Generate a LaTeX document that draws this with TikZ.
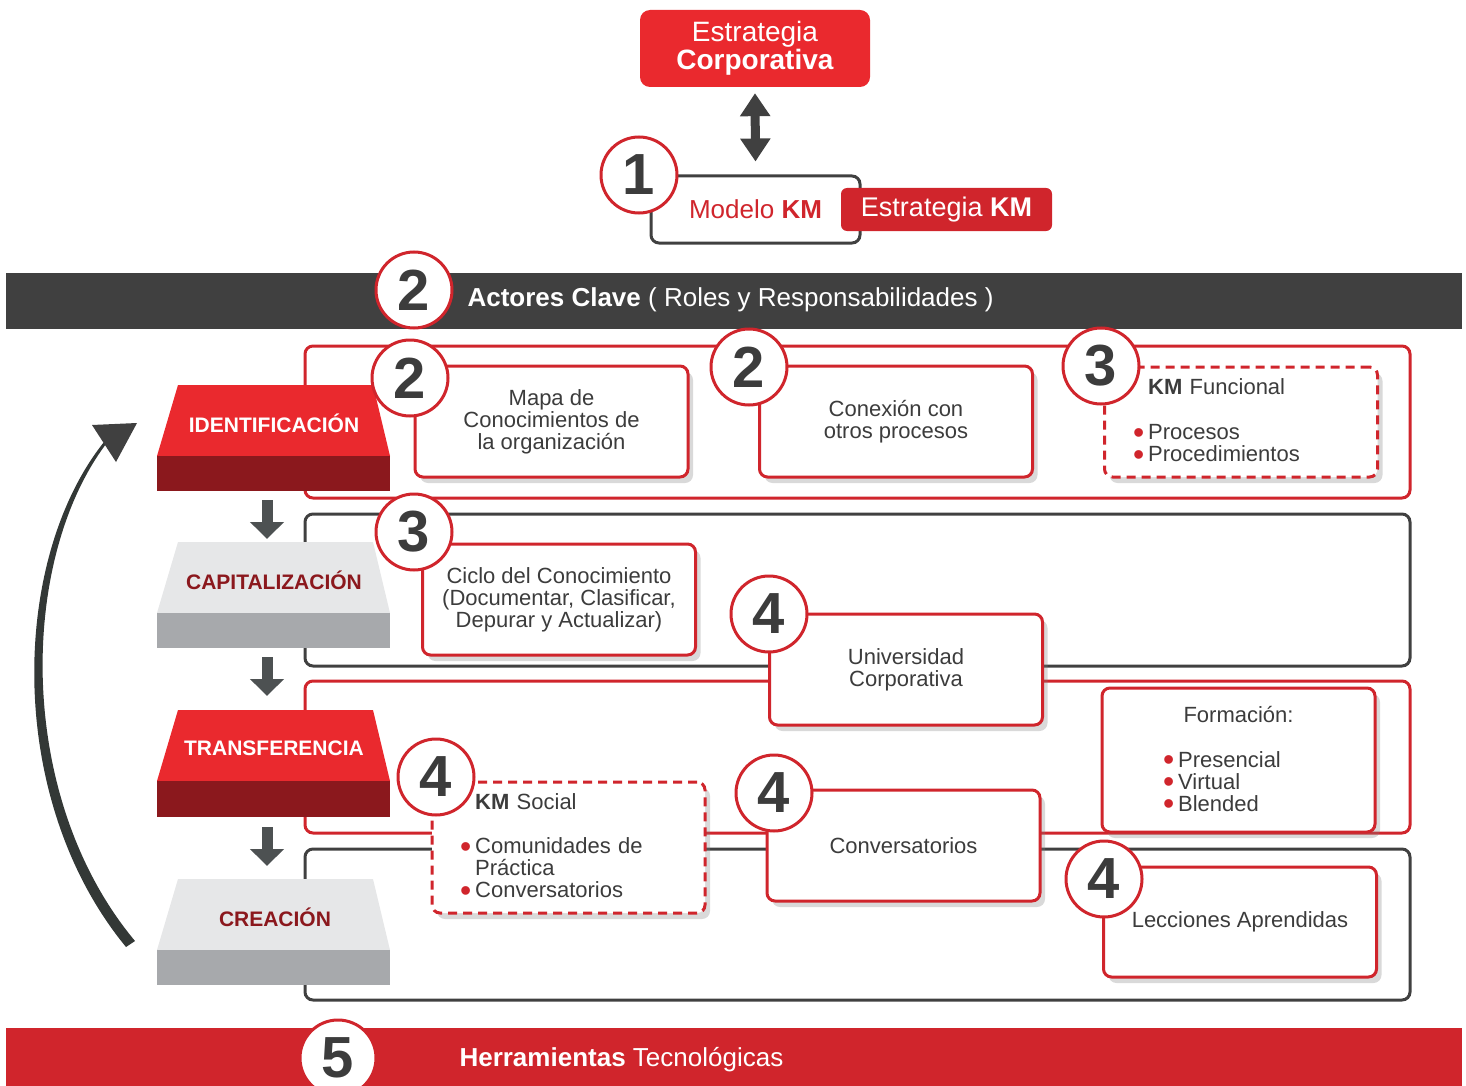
\documentclass[tikz,border=0pt]{standalone}
\usepackage{fontspec}
\usepackage{graphicx}
\setmainfont{Liberation Sans}
\usetikzlibrary{arrows.meta}
\usetikzlibrary{shadows}

\definecolor{kmred}{RGB}{208,37,44}
\definecolor{brightred}{RGB}{234,41,46}
\definecolor{maroon}{RGB}{139,24,29}
\definecolor{lightgr}{RGB}{230,231,232}
\definecolor{midgr}{RGB}{167,169,172}
\definecolor{bandgr}{RGB}{64,64,64}
\definecolor{txtgr}{RGB}{60,60,60}
\definecolor{arrgr}{RGB}{77,81,82}
\definecolor{loopgr}{RGB}{51,56,54}

\newcommand{\bodyfont}{\fontsize{22}{22}\selectfont}
\newcommand{\blt}{\textcolor{kmred}{\raisebox{-3.2pt}{\scalebox{1.45}{\textbullet}}}\hspace{4pt}}

\begin{document}
\begin{tikzpicture}[x=1pt,y=-1pt]
	\tikzset{numcirc/.style = {shape=circle,draw=kmred,line width=3pt,fill=white,minimum size=76pt,inner sep=0pt,text=txtgr,font=\fontsize{58}{58}\selectfont\bfseries}}
	\tikzset{kmbox/.style = {shape=rectangle,rounded corners=8pt,draw=kmred,line width=3pt,fill=white,minimum width=273pt,minimum height=111pt,align=center,text=txtgr,font=\bodyfont,drop shadow={shadow xshift=5pt,shadow yshift=-6pt,opacity=0.3}}}
	\tikzset{dashbox/.style = {kmbox,dash pattern=on 9pt off 6pt}}
	\tikzset{redframe/.style = {draw=kmred,line width=3pt,rounded corners=8pt}}
	\tikzset{grayframe/.style = {draw=bandgr,line width=3pt,rounded corners=8pt}}
	\tikzset{stagetxt/.style = {font=\fontsize{21}{21}\selectfont\bfseries}}
	\tikzset{downarr/.style = {-{Triangle[width=33pt,length=17pt]},line width=11pt,draw=arrgr}}
	\tikzset{dblarr/.style = {{Triangle[width=29pt,length=23pt]}-{Triangle[width=29pt,length=23pt]},line width=9pt,draw=bandgr}}
	\useasboundingbox (0,0) rectangle (1466,1086);
	% bands
	\node[fill=bandgr,minimum width=1456pt,minimum height=56pt,inner sep=0pt,anchor=north west] (actores) at (6,273) {};
	\node[anchor=west,text=white,font=\fontsize{26}{26}\selectfont] (actorestxt) at (464,300) {\textbf{Actores Clave} ( Roles y Responsabilidades )};
	\node[fill=kmred,minimum width=1456pt,minimum height=60pt,inner sep=0pt,anchor=north west] (herram) at (6,1028) {};
	\node[anchor=west,text=white,font=\fontsize{26}{26}\selectfont] (herramtxt) at (456,1060) {\textbf{Herramientas} Tecnológicas};
	% row frames
	\draw[redframe] (305,346) rectangle (1410,498);
	\draw[grayframe] (305,514) rectangle (1410,666);
	\draw[redframe] (305,681) rectangle (1410,833);
	\draw[grayframe] (305,849) rectangle (1410,1000);
	% stages
	\fill[brightred] (178,385) -- (373,385) -- (390,456) -- (157,456) -- cycle;
	\fill[maroon] (157,456) rectangle (390,491);
	\node[stagetxt,text=white] (ident) at (274,423) {IDENTIFICACIÓN};
	\fill[lightgr] (178,542) -- (373,542) -- (390,613) -- (157,613) -- cycle;
	\fill[midgr] (157,613) rectangle (390,648);
	\node[stagetxt,text=maroon] (capit) at (274,580) {CAPITALIZACIÓN};
	\fill[brightred] (178,710) -- (373,710) -- (390,781) -- (157,781) -- cycle;
	\fill[maroon] (157,781) rectangle (390,817);
	\node[stagetxt,text=white] (transf) at (274,748) {TRANSFERENCIA};
	\fill[lightgr] (178,879) -- (373,879) -- (390,950) -- (157,950) -- cycle;
	\fill[midgr] (157,950) rectangle (390,985);
	\node[stagetxt,text=maroon] (creac) at (275,917) {CREACIÓN};
	\coordinate (identbot) at (267,500);
	\coordinate (capittop) at (267,539);
	\coordinate (capitbot) at (267,657);
	\coordinate (transftop) at (267,696);
	\coordinate (transfbot) at (267,827);
	\coordinate (creactop) at (267,866);
	\draw[downarr] (identbot) -- (capittop);
	\draw[downarr] (capitbot) -- (transftop);
	\draw[downarr] (transfbot) -- (creactop);
	% loop back
	\fill[loopgr] (126,947) .. controls (5,800) and (10,560) .. (104,442) -- (106,444) .. controls (19,560) and (15,797) .. (135,941) -- cycle;
	\fill[bandgr] (92,425) -- (137,423) -- (116,462) -- cycle;
	% strategy
	\node[fill=brightred,rounded corners=10pt,minimum width=230pt,minimum height=77pt,align=center,text=white,font=\fontsize{28}{28}\selectfont] (corp) at (755,48.5) {Estrategia\\\textbf{Corporativa}};
	\node[draw=bandgr,line width=3pt,fill=white,rounded corners=8pt,minimum width=209pt,minimum height=67pt,text=kmred,font=\fontsize{26}{26}\selectfont] (modelo) at (755.5,209.5) {Modelo \textbf{KM}\hspace{14pt}};
	\node[fill=kmred,rounded corners=6pt,minimum width=211pt,minimum height=43pt,text=white,font=\fontsize{27}{27}\selectfont] (estkm) at (946.5,209.5) {Estrategia \textbf{KM}};
	\draw[dblarr] ([yshift=-6pt]corp.south) -- ([yshift=13pt]modelo.north);
	% boxes
	\node[kmbox] (mapa) at (551.5,421.5) {Mapa de\\Conocimientos de\\la organización};
	\node[kmbox] (conex) at (896,421.5) {Conexión con\\otros procesos};
	\node[dashbox,align=left,text width=216pt,inner xsep=28pt,minimum height=110pt] (funcional) at (1241,422) {\phantom{\blt}\textbf{KM} Funcional\\[23pt]\blt Procesos\\\blt Procedimientos};
	\node[kmbox] (ciclo) at (559,599.5) {Ciclo del Conocimiento\\(Documentar, Clasificar,\\Depurar y Actualizar)};
	\node[kmbox] (univ) at (906,669.5) {Universidad\\Corporativa};
	\node[kmbox,align=left,text width=151pt,inner xsep=61pt,minimum height=144pt] (formac) at (1238.5,760) {\makebox[151pt][c]{Formación:}\\[23pt]\blt Presencial\\\blt Virtual\\\blt Blended};
	\node[dashbox,align=left,text width=217pt,inner xsep=28pt,minimum height=131pt] (social) at (568.5,847.5) {\phantom{\blt}\textbf{KM} Social\\[22pt]\blt Comunidades de\\\phantom{\blt}Práctica\\\blt Conversatorios};
	\node[kmbox] (convers) at (903.5,845.5) {Conversatorios};
	\node[kmbox,minimum height=110pt] (lecc) at (1240,922) {Lecciones Aprendidas};
	% numbers
	\node[numcirc] (n1) at (639,175) {1};
	\node[numcirc] (n2a) at (414,290) {2};
	\node[numcirc] (n2b) at (410,378) {2};
	\node[numcirc] (n2c) at (749,367) {2};
	\node[numcirc] (n3a) at (1101,366) {3};
	\node[numcirc] (n3b) at (414,532) {3};
	\node[numcirc] (n4a) at (769,614) {4};
	\node[numcirc] (n4b) at (436,777) {4};
	\node[numcirc] (n4c) at (774,793) {4};
	\node[numcirc] (n4d) at (1104,879) {4};
	\node[numcirc] (n5) at (338,1058) {5};
\end{tikzpicture}
\end{document}
